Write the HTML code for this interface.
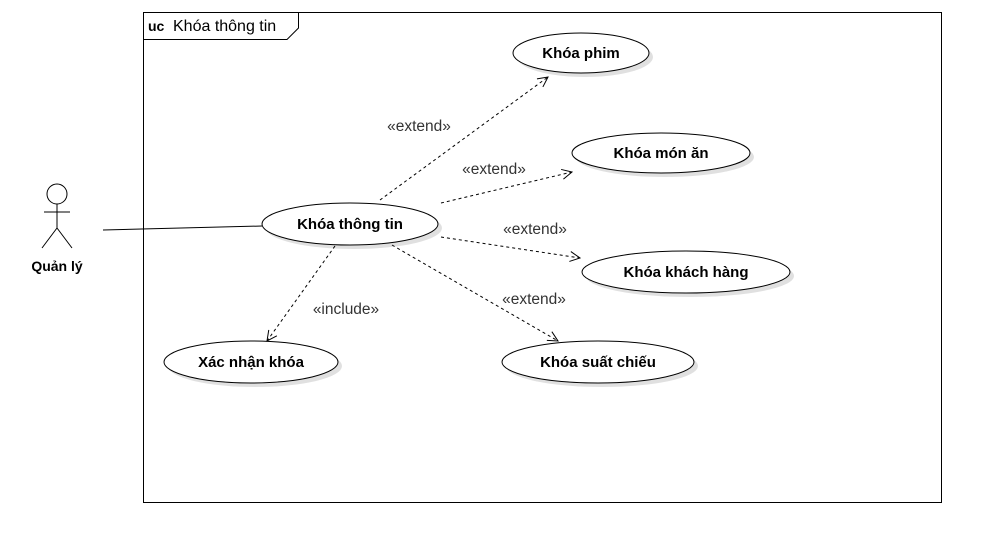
<!DOCTYPE html>
<html><head><meta charset="utf-8"><style>body{margin:0;background:#fff}svg{display:block}</style></head>
<body>
<svg width="991" height="552" viewBox="0 0 991 552" xmlns="http://www.w3.org/2000/svg" font-family="Liberation Sans, Arial, sans-serif">
<defs><marker id="a" markerWidth="12" markerHeight="12" refX="11" refY="6" orient="auto" markerUnits="userSpaceOnUse"><path d="M1,1 L11,6 L1,11" fill="none" stroke="#000" stroke-width="1"/></marker></defs>
<rect x="143.5" y="12.5" width="798" height="490" fill="#fff" stroke="#000"/>
<path d="M143.5,39.5 H287 L298.5,28 V12.5" fill="none" stroke="#000"/>
<text x="148" y="31" font-size="14" font-weight="bold">uc</text>
<text x="173" y="31" font-size="16">Khóa thông tin</text>
<g fill="none" stroke="#000">
<circle cx="57" cy="194" r="10"/>
<path d="M57,204 V228 M44,212 H70 M57,228 L42,248 M57,228 L72,248"/>
</g>
<text x="57" y="271" font-size="14" font-weight="bold" text-anchor="middle">Quản lý</text>
<line x1="103" y1="230" x2="262" y2="226" stroke="#000"/>
<g fill="#ccc" opacity="0.6">
<ellipse cx="585" cy="57" rx="68" ry="20"/><ellipse cx="665" cy="157" rx="89" ry="20"/>
<ellipse cx="354" cy="228" rx="88" ry="21"/><ellipse cx="690" cy="276" rx="104" ry="21"/>
<ellipse cx="255" cy="366" rx="87" ry="21"/><ellipse cx="602" cy="366" rx="96" ry="21"/>
</g>
<g fill="#fff" stroke="#000">
<ellipse cx="581" cy="53" rx="68" ry="20"/><ellipse cx="661" cy="153" rx="89" ry="20"/>
<ellipse cx="350" cy="224" rx="88" ry="21"/><ellipse cx="686" cy="272" rx="104" ry="21"/>
<ellipse cx="251" cy="362" rx="87" ry="21"/><ellipse cx="598" cy="362" rx="96" ry="21"/>
</g>
<g font-size="15" font-weight="bold" text-anchor="middle">
<text x="581" y="58">Khóa phim</text><text x="661" y="158">Khóa món ăn</text>
<text x="350" y="229">Khóa thông tin</text><text x="686" y="277">Khóa khách hàng</text>
<text x="251" y="367">Xác nhận khóa</text><text x="598" y="367">Khóa suất chiếu</text>
</g>
<g stroke="#000" stroke-dasharray="3,3" fill="none" marker-end="url(#a)">
<line x1="380" y1="200" x2="548" y2="77"/>
<line x1="441" y1="203" x2="572" y2="172"/>
<line x1="441" y1="237" x2="580" y2="258"/>
<line x1="392" y1="245" x2="558" y2="341"/>
<line x1="335" y1="246" x2="267" y2="341"/>
</g>
<g font-size="15.5" fill="#333" text-anchor="middle">
<text x="419" y="131">«extend»</text><text x="494" y="174">«extend»</text>
<text x="535" y="234">«extend»</text><text x="534" y="304">«extend»</text>
<text x="346" y="314">«include»</text>
</g>
</svg>
</body></html>
